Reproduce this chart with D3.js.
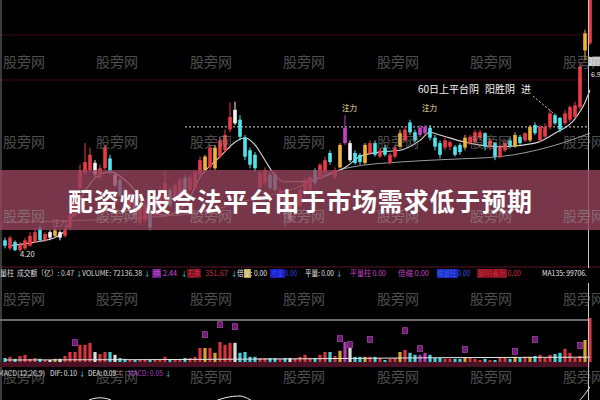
<!DOCTYPE html>
<html><head><meta charset="utf-8">
<script src="https://cdn.jsdelivr.net/npm/d3@7"></script>
<style>html,body{margin:0;padding:0;background:#000;} svg{display:block;}</style>
</head><body>
<svg id="c" width="600" height="400"></svg>
<script>
// ---------- DATA ----------
const openP = [4.33,4.24,4.31,4.22,4.24,4.27,4.31,4.47,4.33,4.36,
4.38,4.42,4.38,4.47,4.61,4.91,5.08,5.11,5.19,5.03,
5.13,5.24,5.06,5.00,4.89,4.67,4.78,4.53,4.56,4.67,
4.61,4.72,4.74,4.89,4.78,4.83,5.02,4.89,4.91,5.06,
5.11,5.14,5.13,5.26,5.33,5.56,5.63,5.67,5.47,5.33,
5.28,4.92,4.97,5.06,5.06,4.78,4.81,4.72,4.64,4.72,
4.87,4.89,5.11,5.02,5.08,5.30,5.03,5.14,5.41,5.41,
5.30,5.28,5.19,5.30,5.41,5.26,5.36,5.19,5.26,5.37,
5.44,5.64,5.53,5.50,5.52,5.58,5.47,5.41,5.36,5.37,
5.37,5.39,5.36,5.41,5.42,5.47,5.52,5.36,5.41,5.26,
5.33,5.44,5.37,5.48,5.44,5.44,5.61,5.44,5.48,5.59,
5.72,5.69,5.63,5.67,5.70,5.81,6.44,6.52];
const closeP = [4.27,4.36,4.22,4.28,4.33,4.38,4.42,4.33,4.40,4.42,
4.44,4.36,4.44,4.61,4.83,5.11,5.20,5.28,5.06,5.13,
5.36,5.09,4.94,4.83,4.72,4.83,4.61,4.72,4.72,4.47,
4.78,4.89,4.97,4.72,4.94,5.00,4.87,5.03,5.09,5.22,
5.26,5.36,5.36,5.44,5.50,5.70,5.78,5.48,5.26,5.17,
5.13,5.08,5.11,4.91,4.89,4.89,4.61,4.56,4.78,4.89,
5.00,5.03,4.97,5.17,5.22,5.20,5.11,5.39,5.58,5.22,
5.19,5.20,5.39,5.41,5.28,5.33,5.28,5.28,5.36,5.52,
5.56,5.53,5.44,5.58,5.59,5.47,5.37,5.28,5.44,5.42,
5.28,5.31,5.47,5.48,5.53,5.53,5.37,5.44,5.26,5.37,
5.41,5.37,5.50,5.41,5.52,5.59,5.52,5.59,5.59,5.74,
5.63,5.56,5.74,5.81,5.83,6.26,6.63,7.10];
const highP = [4.36,4.38,4.33,4.31,4.36,4.42,4.47,4.49,4.42,4.44,
4.47,4.44,4.47,4.64,4.87,5.17,5.41,5.36,5.22,5.17,
5.39,5.28,5.09,5.03,4.91,4.87,4.81,4.74,4.78,4.70,
4.81,4.92,5.11,4.92,4.97,5.03,5.06,5.06,5.11,5.26,
5.28,5.39,5.39,5.47,5.56,5.86,5.87,5.72,5.50,5.36,
5.31,5.11,5.14,5.09,5.08,4.92,4.83,4.74,4.81,4.91,
5.03,5.06,5.13,5.19,5.26,5.33,5.14,5.41,5.72,5.44,
5.33,5.30,5.41,5.44,5.44,5.36,5.39,5.30,5.39,5.56,
5.59,5.67,5.56,5.61,5.61,5.61,5.50,5.44,5.47,5.44,
5.39,5.41,5.50,5.50,5.56,5.56,5.53,5.47,5.42,5.39,
5.44,5.47,5.53,5.50,5.53,5.61,5.64,5.61,5.63,5.78,
5.74,5.70,5.78,5.83,5.87,6.30,6.67,7.20];
const lowP = [4.24,4.22,4.21,4.20,4.22,4.26,4.30,4.31,4.31,4.33,
4.36,4.33,4.36,4.44,4.58,4.89,5.06,5.09,5.03,5.00,
5.11,5.06,4.92,4.81,4.70,4.64,4.58,4.50,4.53,4.44,
4.58,4.70,4.72,4.70,4.76,4.81,4.83,4.87,4.89,5.03,
5.09,5.11,5.11,5.24,5.31,5.53,5.61,5.44,5.22,5.13,
5.09,4.89,4.94,4.89,4.87,4.74,4.48,4.53,4.61,4.70,
4.83,4.87,4.94,5.00,5.06,5.17,5.00,5.13,5.39,5.20,
5.17,5.17,5.17,5.28,5.26,5.24,5.26,5.17,5.24,5.36,
5.42,5.50,5.42,5.48,5.50,5.44,5.33,5.24,5.33,5.33,
5.26,5.28,5.33,5.39,5.39,5.44,5.33,5.33,5.22,5.24,
5.31,5.36,5.36,5.39,5.42,5.42,5.50,5.42,5.47,5.56,
5.61,5.53,5.61,5.64,5.69,5.78,6.33,6.50];
// candle signal category: r up, c down, y/w/m special-signal candles
const kinds = ("crcrrrrcrw"+"ywrrrrrrwr"+"rcwccrcrrc"+"rrrcrrcrrr"+"yryrrrwccc"+
               "crrccrcwrr"+"rrcrrcrymw"+"ccyrcrcrry"+"rccmmcccrr"+"ccyrrrcrcr"+
               "rcycrycrrr"+"ccrrrryr").split("");
const volumes = [10,13,8,15,18,8,10,8,5,5,
8,8,15,25,25,43,43,48,25,20,
25,25,18,10,8,5,5,5,5,5,
5,5,13,5,5,5,10,10,13,35,
35,35,23,50,43,48,48,23,25,13,
13,10,10,10,10,8,10,10,8,13,
18,10,10,18,25,25,15,28,50,35,
13,13,13,13,13,10,5,8,10,25,
30,23,18,18,23,18,10,10,8,8,
8,8,10,10,8,5,8,5,5,10,
10,8,13,10,13,13,15,18,10,18,
20,23,33,23,10,15,55,110];
const maShortIdx = [1,6,10,12,15,18,21,24,26,28,32,36,39,43,46,48,50,52,54,56,59,63,66,68,71,75,79,83,85,87,92,99,106,110,114,116,117];
const maShortVal = [4.27,4.31,4.36,4.44,4.78,5.02,5.09,5.00,4.88,4.70,4.61,4.72,5.03,5.26,5.42,5.47,5.39,5.22,5.05,4.98,4.98,5.02,5.09,5.14,5.26,5.31,5.33,5.44,5.53,5.50,5.42,5.37,5.41,5.52,5.68,5.86,6.00];
const maLongIdx = [0,19,39,49,59,64,69,79,89,99,109,117];
const maLongVal = [4.53,4.56,4.64,4.78,4.93,5.06,5.14,5.20,5.23,5.26,5.37,5.52];
const volMaIdx = [0,30,60,90,117];
const volMaVal = [5,6,8,11,12];
const difIdx = [0,12,15,17,19,21,23,28,36,41,44,47,49,52,60,70,80,90,100,110,114,117];
const difVal = [-0.15,-0.10,-0.02,0.02,0.03,0.02,-0.02,-0.10,-0.08,0.00,0.03,0.04,0.02,-0.04,-0.10,-0.05,-0.03,-0.04,-0.05,-0.02,0.00,0.09];
const markerIdx = [14,40,43,46,67,69,73,80,83,92,102,106,115];
const markerLevel = [47,67,92,87,57,42,55,77,32,30,25,55,40];
const lowLabel = "4.20";
const titleText = "配资炒股合法平台由于市场需求低于预期";
const watermarkText = "股旁网";
const noteParts = ["60日上平台阴","阳胜阴","进"];
const flagText = "注力";
const legendTexts = ["量柱","成交额（亿）: 0.47","↓","VOLUME: 72136.38","↓","换","2.44","↓","右换","351.67","↓","倍量: 0.00","地量 0.00","平量: 0.00","↓","平量柱 0.00","倍缩 0.00","缩量柱 0.00","脚阴真阳 0.00","MA135: 99706."];
const macdTexts = ["MACD(12,26,9)","DIF: 0.10","↓","DEA: 0.09","↑","MACD: 0.05","↓"];

// ---------- DRAW ----------
const svg = d3.select("#c");
const F = "'Noto Sans CJK SC','Noto Sans',sans-serif";
const col = {r:"#ec3b45", c:"#4fe6ee", y:"#f2b233", w:"#f4f4f4", m:"#c640c8"};
svg.append("rect").attr("width",600).attr("height",400).attr("fill","#000");

const N = openP.length;
const x = d3.scaleLinear().domain([0, N-1]).range([5, 590]);
const y = d3.scaleLinear().domain([4.0, 7.0]).range([270, 0]);
const yv = d3.scaleLinear().domain([0, 110]).range([362, 318]);
const ym = d3.scaleLinear().domain([-0.2, 0.1]).range([440, 385]);

// frame / grid
[35, 80].forEach(g => svg.append("line").attr("x1",0).attr("x2",588).attr("y1",g).attr("y2",g)
  .attr("stroke","#3a0d16").attr("stroke-width",1));
svg.append("line").attr("x1",0).attr("x2",600).attr("y1",267).attr("y2",267).attr("stroke","#5a1626");
svg.append("line").attr("x1",1).attr("x2",1).attr("y1",0).attr("y2",400).attr("stroke","#777");

svg.append("clipPath").attr("id","mainclip").append("rect").attr("x",0).attr("y",0).attr("width",600).attr("height",266);
const main = svg.append("g").attr("clip-path","url(#mainclip)");

// dotted level line
main.append("line").attr("x1",185).attr("x2",587).attr("y1",y(5.59)).attr("y2",y(5.59))
  .attr("stroke","#d8d8d8").attr("stroke-width",1).attr("stroke-dasharray","2,2");

// moving averages
const lineGen = d3.line().x(d=>x(d[0])).y(d=>y(d[1])).curve(d3.curveMonotoneX);
main.append("path").datum(d3.zip(maLongIdx, maLongVal)).attr("d", lineGen)
  .attr("fill","none").attr("stroke","#9a9a9a").attr("stroke-width",1);
main.append("path").datum(d3.zip(maShortIdx, maShortVal)).attr("d", lineGen)
  .attr("fill","none").attr("stroke","#d6d6d6").attr("stroke-width",1.1);

// candles
const idx = d3.range(N);
const cg = main.append("g");
cg.selectAll("line.w").data(idx).join("line")
  .attr("x1", i=>x(i)).attr("x2", i=>x(i))
  .attr("y1", i=>y(highP[i])).attr("y2", i=>y(lowP[i]))
  .attr("stroke", i=>col[kinds[i]]).attr("stroke-width",1);
cg.selectAll("rect.b").data(idx).join("rect")
  .attr("x", i=>x(i)-1.8).attr("width",3.6)
  .attr("y", i=>y(Math.max(openP[i],closeP[i])))
  .attr("height", i=>Math.max(1.2, Math.abs(y(openP[i])-y(closeP[i]))))
  .attr("fill", i=>col[kinds[i]]);

// flags 注力
[[10,4.47],[68,5.74],[84,5.74]].forEach(([i,p]) =>
  main.append("text").attr("x", x(i)-3).attr("y", y(p)-2).text(flagText)
   .attr("font-family",F).attr("font-size",7.5).attr("fill","#f2e2a8"));
main.append("text").attr("x",20).attr("y",257).text(lowLabel)
  .attr("font-family",F).attr("font-size",7.5).attr("fill","#e0e0e0");

// annotation
const note = svg.append("g").attr("font-family",F).attr("font-size",10).attr("fill","#f2f2f2");
note.append("text").attr("x",418).attr("y",93).text(noteParts[0]);
note.append("text").attr("x",485).attr("y",93).text(noteParts[1]);
note.append("text").attr("x",521).attr("y",93).text(noteParts[2]);
svg.append("line").attr("x1",533).attr("y1",96).attr("x2",553).attr("y2",113)
  .attr("stroke","#d0d0d0").attr("stroke-width",1).attr("stroke-dasharray","2,2");

// legend line (positions & widths are layout)
const lx = [0,17,76,82,144,153,163,181,188,205,231,237,271,305,336,350,398,437,478,542];
const lw = [14,57,0,60,0,8,14,0,12,23,0,30,26,29,0,36,31,33,43,45];
const lc = ["#dcdcdc","#dcdcdc","#4fe6ee","#dcdcdc","#4fe6ee","#d050d8","#d050d8","#4fe6ee","#e03040","#c83040","#4fe6ee","#e8e8e8","#3048ff","#e8e8e8","#4fe6ee","#c844c8","#c844c8","#3a5cff","#d82a3a","#e8e8e8"];
const bgs = [[152,9,"#5a1a78"],[187,14,"#6a1020"],[244,7,"#b89a20"],[270,15,"#1a1ab0"],[437,21,"#1a2ab8"],[477,30,"#7a1020"]];
bgs.forEach(b => svg.append("rect").attr("x",b[0]).attr("y",269).attr("width",b[1]).attr("height",9).attr("fill",b[2]));
const lg = svg.append("g").attr("font-family",F).attr("font-size",7.5);
legendTexts.forEach((t,k) => {
  const tt = lg.append("text").attr("x",lx[k]).attr("y",276).text(t).attr("fill",lc[k]);
  if (lw[k] > 0) tt.attr("textLength",lw[k]).attr("lengthAdjust","spacingAndGlyphs");
  else tt.attr("font-size",6.5);
});

// volume panel
svg.append("line").attr("x1",0).attr("x2",590).attr("y1",320).attr("y2",320).attr("stroke","#8e8e8e").attr("stroke-width",1.5);
svg.append("rect").attr("x",0).attr("y",362).attr("width",590).attr("height",5).attr("fill","#4a1224");
svg.selectAll("rect.v").data(idx).join("rect")
  .attr("x", i=>x(i)-1.6).attr("width",3.2)
  .attr("y", i=>yv(volumes[i])).attr("height", i=>yv(0)-yv(volumes[i]))
  .attr("fill", i=>col[kinds[i]]).attr("opacity",0.9);
svg.append("path").datum(d3.zip(volMaIdx, volMaVal))
  .attr("d", d3.line().x(d=>x(d[0])).y(d=>yv(d[1])).curve(d3.curveMonotoneX))
  .attr("fill","none").attr("stroke","#e6e6e6").attr("stroke-width",1);
markerIdx.forEach((i,k) => {
  svg.append("rect").attr("x",x(i)-2.5).attr("y",yv(markerLevel[k])-3.5).attr("width",5).attr("height",6)
    .attr("fill","#6a2070").attr("stroke","#b048b8").attr("stroke-width",0.7);
});

// MACD header + line
const mx = [-2,50,79,88,117,128,165];
const mw = [47,27,0,28,0,35,0];
const mc = ["#d0d0d0","#e8e8e8","#4fe6ee","#e8e8e8","#e03040","#b040c0","#4fe6ee"];
const mg = svg.append("g").attr("font-family",F).attr("font-size",7.5);
macdTexts.forEach((t,k) => {
  const tt = mg.append("text").attr("x",mx[k]).attr("y",375.5).text(t).attr("fill",mc[k]);
  if (mw[k] > 0) tt.attr("textLength",mw[k]).attr("lengthAdjust","spacingAndGlyphs");
  else tt.attr("font-size",6.5);
});
svg.append("path").datum(d3.zip(difIdx, difVal))
  .attr("d", d3.line().x(d=>x(d[0])).y(d=>ym(d[1])).curve(d3.curveMonotoneX))
  .attr("fill","none").attr("stroke","#eeeeee").attr("stroke-width",1);

// crosshair at the right
svg.append("line").attr("x1",588.5).attr("x2",588.5).attr("y1",0).attr("y2",268).attr("stroke","#c8c8c8");
svg.append("line").attr("x1",588.5).attr("x2",588.5).attr("y1",283).attr("y2",400).attr("stroke","#c8c8c8");
svg.append("rect").attr("x",589).attr("y",57).attr("width",11).attr("height",9).attr("fill","#cfcfcf");
svg.append("text").attr("x",591).attr("y",77).text("6.9").attr("font-family",F).attr("font-size",7).attr("fill","#e8e8e8");

// banner
svg.append("rect").attr("x",0).attr("y",170).attr("width",600).attr("height",60)
  .attr("fill","rgb(150,68,94)").attr("opacity",0.8);

// watermarks
const wx = [3,96,190,283,377,470,563];
const wy = [67,147,221,304,382];
const wm = svg.append("g").attr("font-family",F).attr("font-size",14).attr("fill","#9a9a9a").attr("opacity",0.5);
wy.forEach(yy => wx.forEach(xx => wm.append("text").attr("x",xx).attr("y",yy).text(watermarkText)));

// title
svg.append("text").attr("x",68).attr("y",211).text(titleText)
  .attr("font-family",F).attr("font-weight","bold").attr("font-size",25).attr("fill","#ffffff")
  .attr("textLength",464).attr("lengthAdjust","spacing");
</script>
</body></html>
